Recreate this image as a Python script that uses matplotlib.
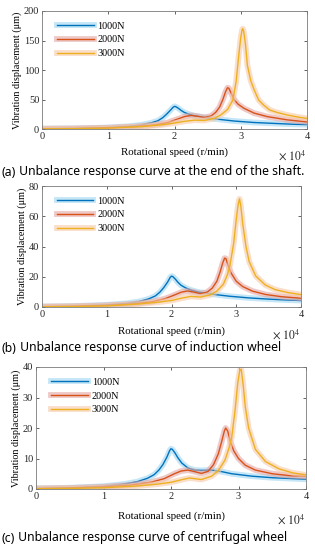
"""
Unbalance response curves (3 panels) for 1000N / 2000N / 3000N loads.
Output: out.png (315x550 px)
"""
import matplotlib
matplotlib.use("Agg")
import matplotlib.pyplot as plt
import matplotlib.patheffects as pe

# ---------------------------------------------------------------------------
# Data (speed in 1e4 r/min, displacement in um)
# ---------------------------------------------------------------------------

LABELS = ["1000N", "2000N", "3000N"]

# (a) end of the shaft
a_1000_x = [0, 0.5, 1.0, 1.3, 1.5, 1.65, 1.75, 1.82, 1.88, 1.94, 1.98, 2.0, 2.02, 2.06,
            2.1, 2.15, 2.22, 2.3, 2.4, 2.55, 2.7, 2.9, 3.2, 3.5, 3.8, 4.0]
a_1000_y = [0.5, 1.0, 2.5, 4.5, 7, 10.5, 14, 19, 25, 32, 37, 38.3, 37.8, 35,
            31.5, 28, 25, 22.5, 20.5, 18, 16, 13.5, 11, 9.5, 8, 7.5]
a_2000_x = [0, 0.5, 1.0, 1.4, 1.7, 1.9, 2.05, 2.15, 2.25, 2.35, 2.45, 2.55, 2.62, 2.68,
            2.73, 2.77, 2.8, 2.82, 2.85, 2.9, 2.96, 3.05, 3.2, 3.4, 3.7, 4.0]
a_2000_y = [0.3, 0.8, 2, 4, 7, 11, 17, 21, 23, 21.5, 19.5, 22, 28, 37,
            50, 63, 70, 69, 62, 50, 42, 35, 27, 21, 15.5, 12]
a_3000_x = [0, 0.5, 1.0, 1.5, 1.8, 2.0, 2.15, 2.3, 2.45, 2.6, 2.7, 2.8, 2.88, 2.93,
            2.97, 3.0, 3.02, 3.03, 3.045, 3.07, 3.1, 3.15, 3.2, 3.27, 3.35, 3.44,
            3.55, 3.69, 3.85, 4.0]
a_3000_y = [0.2, 0.5, 1.5, 4, 7, 10, 13, 15, 14.5, 18, 24, 33, 49, 80,
            125, 155, 168, 170, 165, 145, 108, 82, 67, 49, 40, 32,
            28, 24, 20.5, 18]

# (b) induction wheel
b_1000_x = [0, 0.5, 1.0, 1.3, 1.5, 1.65, 1.75, 1.82, 1.88, 1.94, 1.98, 2.0, 2.02, 2.06,
            2.1, 2.15, 2.22, 2.3, 2.4, 2.55, 2.7, 2.9, 3.2, 3.5, 3.8, 4.0]
b_1000_y = [0.3, 0.6, 1.4, 2.4, 3.6, 5.4, 7.3, 9.8, 12.8, 16.5, 19.6, 20.4, 20.1, 18.4,
            16.3, 14.3, 12.6, 11.2, 10, 9, 8.1, 7.1, 6, 5.2, 4.6, 4.3]
b_2000_x = [0, 0.5, 1.0, 1.4, 1.7, 1.9, 2.05, 2.15, 2.25, 2.35, 2.45, 2.55, 2.63, 2.7,
            2.75, 2.79, 2.82, 2.84, 2.87, 2.92, 3.0, 3.1, 3.25, 3.45, 3.7, 4.0]
b_2000_y = [0.2, 0.4, 1, 2, 3.5, 5.5, 8, 9.8, 10.6, 9.8, 8.8, 9.8, 12.5, 17,
            23, 29, 32.3, 32, 28, 22.5, 17, 13.5, 10.5, 8.3, 6.8, 5.8]
b_3000_x = [0, 0.5, 1.0, 1.5, 1.8, 2.0, 2.15, 2.3, 2.45, 2.6, 2.7, 2.8, 2.86, 2.9,
            2.96, 3.0, 3.03, 3.05, 3.07, 3.1, 3.15, 3.2, 3.3, 3.45, 3.6, 3.8, 4.0]
b_3000_y = [0.1, 0.3, 0.7, 2, 3.2, 4.3, 5.8, 7, 6.6, 8, 10.5, 15, 21, 27,
            42, 58, 68, 71.5, 67, 55, 40, 30, 20.5, 14.5, 11.5, 9.5, 8.2]

# (c) centrifugal wheel
c_1000_x = [0, 0.5, 1.0, 1.3, 1.5, 1.65, 1.75, 1.82, 1.88, 1.94, 1.98, 2.0, 2.02, 2.06,
            2.1, 2.16, 2.25, 2.35, 2.45, 2.6, 2.75, 2.9, 3.2, 3.5, 3.8, 4.0]
c_1000_y = [0.2, 0.4, 0.9, 1.6, 2.4, 3.5, 4.7, 6.2, 8, 10.5, 12.6, 13.2, 13, 11.8,
            10.3, 8.5, 6.9, 6.2, 6.1, 6.2, 5.7, 5.0, 4.2, 3.7, 3.4, 3.2]
c_2000_x = [0, 0.5, 1.0, 1.4, 1.7, 1.9, 2.05, 2.15, 2.25, 2.35, 2.45, 2.55, 2.63, 2.7,
            2.75, 2.79, 2.81, 2.84, 2.88, 2.93, 3.0, 3.1, 3.25, 3.5, 3.75, 4.0]
c_2000_y = [0.1, 0.3, 0.7, 1.3, 2.2, 3.4, 5, 5.9, 6.2, 5.7, 5.1, 5.8, 8, 11.5,
            15.5, 19, 20, 19, 15.5, 12.5, 10, 7.8, 6.2, 5.0, 4.4, 4.1]
c_3000_x = [0, 0.5, 1.0, 1.5, 1.8, 2.0, 2.15, 2.27, 2.35, 2.45, 2.6, 2.7, 2.8, 2.86,
            2.9, 2.95, 2.99, 3.02, 3.04, 3.07, 3.1, 3.15, 3.25, 3.4, 3.6, 3.8, 4.0]
c_3000_y = [0.1, 0.2, 0.4, 1.0, 1.6, 2.2, 3.0, 3.6, 3.4, 3.1, 4.2, 6, 9.5, 13.5,
            17, 26, 35, 39, 39.3, 34, 27, 20, 13, 9, 6.6, 5.3, 4.6]

A_YTICKS = [0, 50, 100, 150, 200]
B_YTICKS = [0, 20, 40, 60, 80]
C_YTICKS = [0, 10, 20, 30, 40]
XTICKS = [0, 1, 2, 3, 4]

CAPTIONS = [
    ("(a)", " Unbalance response curve at the end of the shaft."),
    ("(b)", " Unbalance response curve of induction wheel"),
    ("(c)", " Unbalance response curve of centrifugal wheel"),
]

# ---------------------------------------------------------------------------
# Style
# ---------------------------------------------------------------------------

COLORS = ["#0072BD", "#D95319", "#EDB120"]
GLOWS  = ["#9ED6F2", "#E3A6A2", "#F7C9A6"]
SERIF  = ["Liberation Serif", "DejaVu Serif"]
SANS   = ["Noto Sans", "DejaVu Sans"]

plt.rcParams["font.family"] = SERIF
plt.rcParams["mathtext.fontset"] = "stix"

W, H = 315, 550
# axes rectangles in pixels: left, top, right, bottom
AX_PX = [(42, 11, 307, 129), (42, 186, 301, 307), (36, 367, 306, 489)]
XLABEL_Y = [152, 331, 516]
CAPTION_Y = [172, 348, 538]


def draw_panel(fig, rect_px, series, yticks, xlabel_y, caption, caption_y):
    l, t, r, b = rect_px
    ax = fig.add_axes([l / W, 1 - b / H, (r - l) / W, (b - t) / H])

    for (xs, ys), col, glow, lab in zip(series, COLORS, GLOWS, LABELS):
        ax.plot(xs, ys, color=col, linewidth=1.0, label=lab,
                solid_joinstyle="round",
                path_effects=[pe.Stroke(linewidth=4.2, foreground=glow, alpha=0.6),
                              pe.Normal()])

    ax.set_xlim(0, 4)
    ax.set_ylim(yticks[0], yticks[-1])
    ax.set_xticks(XTICKS)
    ax.set_yticks(yticks)
    ax.tick_params(direction="in", top=True, right=True, length=2.5, width=0.5,
                   labelsize=7.5, colors="#262626", pad=2)
    for sp in ax.spines.values():
        sp.set_linewidth(0.6)
        sp.set_color("#7a7a7a")

    ax.set_ylabel("Vibration displacement (μm)", fontsize=7.3, labelpad=1)
    fig.text((l + r) / 2 / W, 1 - xlabel_y / H, "Rotational speed (r/min)",
             fontsize=7.8, ha="center", va="center")
    fig.text((r - 29) / W, 1 - (xlabel_y + 4) / H, r"$\times\ 10^4$",
             fontsize=8.5, ha="left", va="center", color="#262626")

    ax.legend(loc="upper left", frameon=False, fontsize=7.3, handlelength=3.6,
              labelspacing=0.45, borderaxespad=0.3, handletextpad=0.4,
              bbox_to_anchor=(0.03, 0.97))

    tag, rest = caption
    t1 = fig.text(2 / W, 1 - caption_y / H, tag, fontsize=8.8, fontweight="bold",
                  family=SANS, ha="left", va="center")
    fig.canvas.draw()
    bb = t1.get_window_extent()
    fig.text(bb.x1 / fig.bbox.width, 1 - caption_y / H, rest, fontsize=8.8,
             family=SANS, ha="left", va="center")
    return ax


def main() -> None:
    fig = plt.figure(figsize=(W / 100, H / 100), dpi=100)

    panels = [
        ([(a_1000_x, a_1000_y), (a_2000_x, a_2000_y), (a_3000_x, a_3000_y)], A_YTICKS),
        ([(b_1000_x, b_1000_y), (b_2000_x, b_2000_y), (b_3000_x, b_3000_y)], B_YTICKS),
        ([(c_1000_x, c_1000_y), (c_2000_x, c_2000_y), (c_3000_x, c_3000_y)], C_YTICKS),
    ]
    for i, (series, yticks) in enumerate(panels):
        draw_panel(fig, AX_PX[i], series, yticks, XLABEL_Y[i], CAPTIONS[i], CAPTION_Y[i])

    fig.savefig("out.png", dpi=100)
    plt.close(fig)


if __name__ == "__main__":
    main()
